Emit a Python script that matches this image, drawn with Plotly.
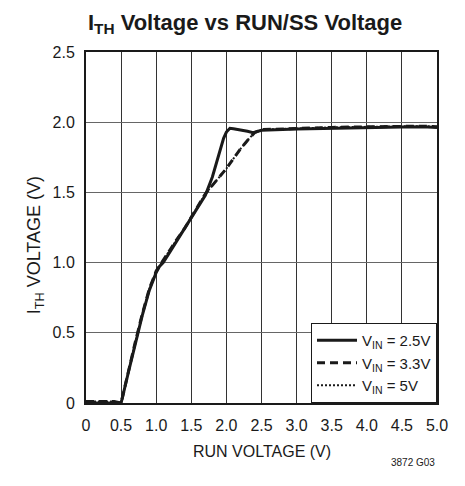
import plotly.graph_objects as go

# Data
run_v_25 = [0, 0.1, 0.2, 0.3, 0.4, 0.5, 0.6, 0.7, 0.8, 0.9, 1.0, 1.05, 1.1, 1.2, 1.3, 1.4, 1.5, 1.6, 1.7,
            1.8, 1.86, 1.92, 1.96, 2.0, 2.05, 2.1, 2.2, 2.3, 2.38, 2.45, 2.5, 3.0, 3.5, 4.0, 4.5, 4.8, 5.0]
ith_25 = [0, 0, 0, 0, 0, 0, 0.21, 0.42, 0.62, 0.80, 0.93, 0.975, 1.0, 1.08, 1.16, 1.23, 1.31, 1.39, 1.48,
          1.61, 1.71, 1.82, 1.885, 1.93, 1.957, 1.953, 1.945, 1.935, 1.925, 1.937, 1.943, 1.952, 1.958, 1.962, 1.966, 1.967, 1.963]

run_v_33 = [0, 0.1, 0.2, 0.3, 0.4, 0.5, 0.6, 0.7, 0.8, 0.9, 1.0, 1.05, 1.1, 1.2, 1.3, 1.4, 1.5, 1.6, 1.7,
            1.8, 1.9, 2.0, 2.1, 2.2, 2.3, 2.4, 2.5, 3.0, 3.5, 4.0, 4.5, 4.8, 5.0]
ith_33 = [0.01, 0.01, 0.01, 0.01, 0.01, 0.0, 0.22, 0.43, 0.63, 0.81, 0.94, 0.98, 1.01, 1.09, 1.17, 1.24, 1.32, 1.40, 1.49,
          1.55, 1.61, 1.67, 1.74, 1.81, 1.87, 1.925, 1.947, 1.957, 1.963, 1.967, 1.971, 1.972, 1.968]

run_v_5 = [0, 0.1, 0.2, 0.3, 0.4, 0.5, 0.6, 0.7, 0.8, 0.9, 1.0, 1.05, 1.1, 1.2, 1.3, 1.4, 1.5, 1.6, 1.7,
           1.8, 1.9, 2.0, 2.1, 2.2, 2.3, 2.4, 2.5, 3.0, 3.5, 4.0, 4.5, 4.8, 5.0]
ith_5 = [0.01, 0.01, 0.01, 0.01, 0.01, 0.0, 0.22, 0.43, 0.63, 0.81, 0.94, 0.98, 1.01, 1.09, 1.17, 1.24, 1.32, 1.40, 1.49,
         1.55, 1.61, 1.67, 1.74, 1.81, 1.87, 1.925, 1.947, 1.957, 1.963, 1.967, 1.971, 1.972, 1.968]

x_ticks = [0, 0.5, 1.0, 1.5, 2.0, 2.5, 3.0, 3.5, 4.0, 4.5, 5.0]
x_tick_labels = ["0", "0.5", "1.0", "1.5", "2.0", "2.5", "3.0", "3.5", "4.0", "4.5", "5.0"]
y_ticks = [0, 0.5, 1.0, 1.5, 2.0, 2.5]
y_tick_labels = ["0", "0.5", "1.0", "1.5", "2.0", "2.5"]

FONT = "Liberation Sans, Arial, Helvetica, sans-serif"
INK = "#1a1a1a"

fig = go.Figure()
fig.add_trace(go.Scatter(x=run_v_5, y=ith_5, mode="lines", name="V<sub>IN</sub> = 5V",
                         line=dict(color=INK, width=2, dash="2px,2px")))
fig.add_trace(go.Scatter(x=run_v_33, y=ith_33, mode="lines", name="V<sub>IN</sub> = 3.3V",
                         line=dict(color=INK, width=3, dash="8px,5px")))
fig.add_trace(go.Scatter(x=run_v_25, y=ith_25, mode="lines", name="V<sub>IN</sub> = 2.5V",
                         line=dict(color=INK, width=3)))

fig.update_layout(
    width=465, height=486,
    margin=dict(l=86, r=28, t=52, b=83, autoexpand=False),
    paper_bgcolor="white", plot_bgcolor="white",
    font=dict(family=FONT, size=16, color=INK),
    title=dict(text="<b>I<sub>TH</sub> Voltage vs RUN/SS Voltage</b>",
               x=0.527, xanchor="center", y=0.955, yanchor="middle",
               font=dict(family=FONT, size=22, color=INK)),
    showlegend=True,
    legend=dict(x=1, y=0, xanchor="right", yanchor="bottom", traceorder="reversed",
                bgcolor="white", bordercolor=INK, borderwidth=1,
                font=dict(family=FONT, size=15), itemwidth=40,
                entrywidth=138, entrywidthmode="pixels",
                tracegroupgap=0),
)
fig.update_xaxes(range=[0, 5], tickvals=x_ticks, ticktext=x_tick_labels,
                 showgrid=True, gridcolor="#333", gridwidth=1,
                 showline=True, linecolor=INK, linewidth=2, mirror=True,
                 ticks="", zeroline=False, automargin=False,
                 ticklabelstandoff=7, tickfont=dict(size=16))
fig.update_yaxes(range=[0, 2.5], tickvals=y_ticks, ticktext=y_tick_labels,
                 showgrid=True, gridcolor="#666", gridwidth=1,
                 showline=True, linecolor=INK, linewidth=2, mirror=True,
                 ticks="", zeroline=False, automargin=False,
                 ticklabelstandoff=6, tickfont=dict(size=16))

fig.add_annotation(text="RUN VOLTAGE (V)", xref="paper", yref="paper", x=0.5, y=-0.137,
                   xanchor="center", yanchor="middle", showarrow=False,
                   font=dict(family=FONT, size=16, color=INK))
fig.add_annotation(text="I<sub>TH</sub> VOLTAGE (V)", xref="paper", yref="paper", x=-0.145, y=0.45,
                   xanchor="center", yanchor="middle", showarrow=False, textangle=-90,
                   font=dict(family=FONT, size=18, color=INK))
fig.add_annotation(text="3872 G03", xref="paper", yref="paper", x=1.0, y=-0.17,
                   xanchor="right", yanchor="middle", showarrow=False,
                   font=dict(family=FONT, size=10, color=INK))

fig.write_html("out.html", config={"displayModeBar": False},
               post_script="document.body.style.margin='0px';")
